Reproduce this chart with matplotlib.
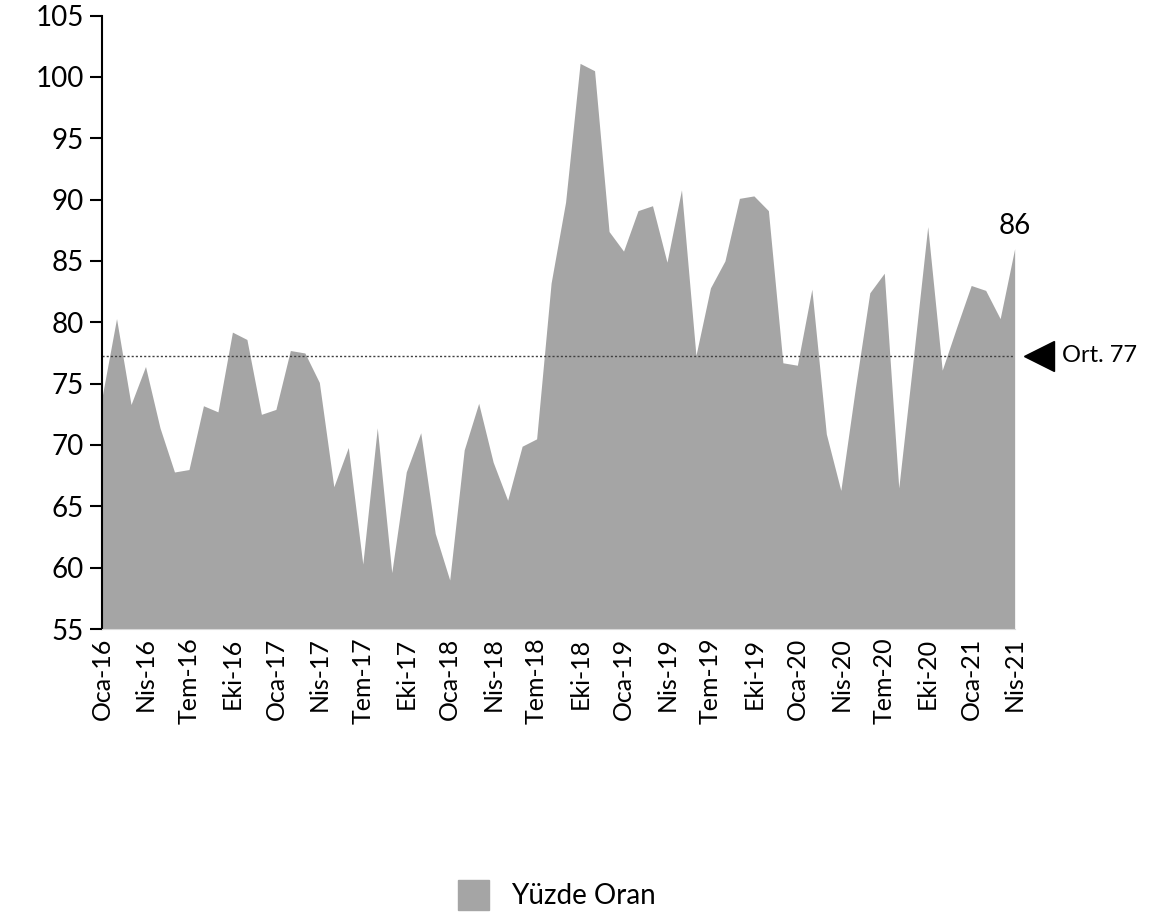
import numpy as np
import matplotlib.pyplot as plt
from matplotlib.patches import Patch

plt.rcParams['font.family'] = ['Lato', 'DejaVu Sans']

# aylik veriler, Oca-16 .. Nis-21
aylar = ['Oca', 'Şub', 'Mar', 'Nis', 'May', 'Haz', 'Tem', 'Ağu', 'Eyl', 'Eki', 'Kas', 'Ara']
yuzde_oran = [73.9, 80.3, 73.3, 76.4, 71.4, 67.8, 68.0, 73.2, 72.7, 79.2, 78.6, 72.5,
              72.9, 77.7, 77.5, 75.1, 66.6, 69.8, 60.3, 71.4, 59.6, 67.8, 71.0, 62.8,
              59.0, 69.6, 73.4, 68.6, 65.5, 69.9, 70.5, 83.2, 89.8, 101.1, 100.5, 87.4,
              85.8, 89.1, 89.5, 84.9, 90.8, 77.3, 82.8, 85.0, 90.1, 90.3, 89.1, 76.7,
              76.5, 82.7, 70.9, 66.3, 74.6, 82.4, 84.0, 66.5, 77.0, 87.8, 76.1, 79.6,
              83.0, 82.6, 80.3, 86.0]

etiketler = [f"{aylar[i % 12]}-{16 + i // 12}" for i in range(len(yuzde_oran))]
x = np.arange(len(yuzde_oran))
y = np.array(yuzde_oran)
ort = y.mean()

fig = plt.figure(figsize=(11.73, 9.13), dpi=100)
ax = fig.add_axes([0.087, 0.311, 0.778, 0.672])

ax.fill_between(x, 55, y, color='#a5a5a5', linewidth=0)
ax.plot([0, len(y) - 1], [ort, ort], color='#404040', linestyle=(0, (1.5, 1.5)), linewidth=1)

ax.set_xlim(0, len(y) - 1)
ax.set_ylim(55, 105)
ax.set_yticks(np.arange(55, 106, 5))
ax.set_xticks(x[::3])
ax.set_xticklabels(etiketler[::3], rotation=90)
ax.tick_params(axis='y', labelsize=20, length=9, width=1.5, pad=4)
ax.tick_params(axis='x', labelsize=18, length=0, pad=6)

for s in ['top', 'right']:
    ax.spines[s].set_visible(False)
ax.spines['left'].set_linewidth(1.5)
ax.spines['bottom'].set_color('#d9d9d9')

# son deger etiketi
ax.text(x[-1], y[-1] + 0.8, f"{y[-1]:.0f}", ha='center', va='bottom', fontsize=20)

# ortalama isareti
ax.plot([x[-1] + 1.7], [ort], marker='<', markersize=22, color='black', clip_on=False)
ax.text(x[-1] + 3.3, ort, f"Ort. {ort:.0f}", ha='left', va='center', fontsize=17)

fig.legend(handles=[Patch(color='#a5a5a5', label='Yüzde Oran')], loc='center',
           bbox_to_anchor=(0.475, 0.02), frameon=False, fontsize=20,
           handlelength=1.1, handleheight=1.3, handletextpad=0.8)

fig.savefig('out.png', dpi=100)
